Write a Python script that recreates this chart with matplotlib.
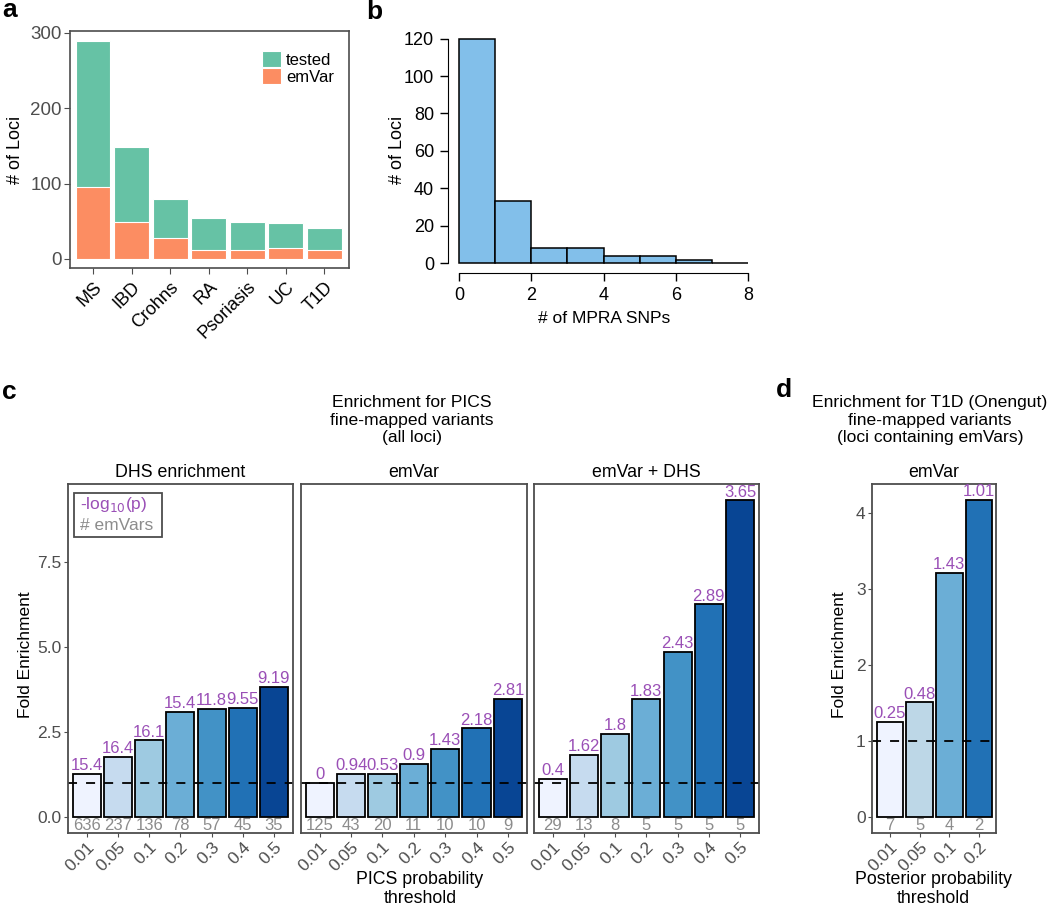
import numpy as np
import matplotlib
matplotlib.use('Agg')
import matplotlib.pyplot as plt
from matplotlib.patches import Rectangle

plt.rcParams['font.family'] = ['Liberation Sans', 'DejaVu Sans']

# panel a
diseases = ['MS', 'IBD', 'Crohns', 'RA', 'Psoriasis', 'UC', 'T1D']
tested = [289, 149, 79, 55, 49, 48, 41]
emvar_loci = [95, 49, 28, 12, 12, 15, 12]

# panel b
snp_edges = [0, 1, 2, 3, 4, 5, 6, 7, 8]
snp_counts = [120, 33, 8, 8, 4, 4, 2, 0]

# panel c
thresholds = ['0.01', '0.05', '0.1', '0.2', '0.3', '0.4', '0.5']
dhs_fold = [1.26, 1.77, 2.25, 3.09, 3.17, 3.21, 3.82]
dhs_logp = ['15.4', '16.4', '16.1', '15.4', '11.8', '9.55', '9.19']
dhs_n = [636, 237, 136, 78, 57, 45, 35]
emvar_fold = [1.0, 1.26, 1.26, 1.55, 2.0, 2.6, 3.47]
emvar_logp = ['0', '0.94', '0.53', '0.9', '1.43', '2.18', '2.81']
emvar_n = [125, 43, 20, 11, 10, 10, 9]
both_fold = [1.12, 1.82, 2.43, 3.45, 4.86, 6.25, 9.31]
both_logp = ['0.4', '1.62', '1.8', '1.83', '2.43', '2.89', '3.65']
both_n = [29, 13, 8, 5, 5, 5, 5]

# panel d
t1d_thr = ['0.01', '0.05', '0.1', '0.2']
t1d_fold = [1.25, 1.51, 3.21, 4.17]
t1d_logp = ['0.25', '0.48', '1.43', '1.01']
t1d_n = [7, 5, 4, 2]

blues7 = ['#EFF3FF', '#C6DBEF', '#9ECAE1', '#6BAED6', '#4292C6', '#2171B5', '#084594']
blues4 = ['#EFF3FF', '#BDD7E7', '#6BAED6', '#2171B5']
purple = '#9A4FB6'
grey_num = '#8C8C8C'
frame = '#4D4D4D'

W, H = 1050, 907
fig = plt.figure(figsize=(W / 100, H / 100), dpi=100)


def box(l, t, r, b):
    return [l / W, 1 - b / H, (r - l) / W, (b - t) / H]


def fx(x):
    return x / W


def fy(y):
    return 1 - y / H


# ---- a ----
ax = fig.add_axes(box(70, 31, 349, 268))
x = np.arange(len(diseases))
ax.bar(x, tested, width=0.9, color='#66C2A5', edgecolor='white', linewidth=0.8, label='tested')
ax.bar(x, emvar_loci, width=0.9, color='#FC8D62', edgecolor='white', linewidth=0.8, label='emVar')
ax.set_xlim(-0.6, 6.64)
ax.set_ylim(-12, 302.6)
ax.set_yticks([0, 100, 200, 300])
ax.set_xticks(x)
ax.set_xticklabels(diseases, rotation=45, ha='right', rotation_mode='anchor', fontsize=13, color='black')
ax.tick_params(axis='y', labelsize=13.5, colors=frame, length=4, pad=2)
ax.tick_params(axis='x', length=4, color=frame)
for s in ax.spines.values():
    s.set_color(frame)
    s.set_linewidth(1.2)
ax.legend(loc='upper left', bbox_to_anchor=(0.688, 0.915), frameon=False, fontsize=12,
          handlelength=1.15, handleheight=1.05, handletextpad=0.3, labelspacing=0.05,
          borderpad=0, borderaxespad=0)
fig.text(fx(15), fy(150), '# of Loci', rotation=90, ha='center', va='center', fontsize=13)

# ---- b ----
ax = fig.add_axes(box(448, 30, 760, 273))
ax.bar(snp_edges[:-1], snp_counts, width=1, align='edge', color='#82BFEA', edgecolor='black', linewidth=1.1)
ax.set_xlim(-0.305, 8.33)
ax.set_ylim(-5.2, 124.6)
ax.spines['top'].set_visible(False)
ax.spines['right'].set_visible(False)
ax.spines['left'].set_bounds(0, 120)
ax.spines['bottom'].set_bounds(0, 8)
ax.set_yticks([0, 20, 40, 60, 80, 100, 120])
ax.set_xticks([0, 2, 4, 6, 8])
ax.tick_params(labelsize=13, length=6, width=1, pad=4)
ax.set_xlabel('# of MPRA SNPs', fontsize=12.5, labelpad=5)
fig.text(fx(398), fy(150), '# of Loci', rotation=90, ha='center', va='center', fontsize=13)


# ---- c / d ----
def enrich(ax, labels, fold, logp, n, colors, ylim, xlim):
    xs = np.arange(len(labels))
    ax.bar(xs, fold, width=0.9, color=colors, edgecolor='black', linewidth=1.3)
    ax.axhline(1, color='black', linestyle=(0, (5, 5)), linewidth=1.3)
    for xi, f, lp, ni in zip(xs, fold, logp, n):
        ax.annotate(lp, (xi, f), xytext=(0, 0.5), textcoords='offset points',
                    ha='center', va='bottom', color=purple, fontsize=12)
        ax.annotate(str(ni), (xi, 0), xytext=(0, -6.2), textcoords='offset points',
                    ha='center', va='center', color=grey_num, fontsize=12)
    ax.set_xlim(*xlim)
    ax.set_ylim(*ylim)
    ax.set_xticks(xs)
    ax.set_xticklabels(labels, rotation=45, ha='right', rotation_mode='anchor', fontsize=12, color=frame)
    ax.tick_params(length=3, color=frame, labelsize=12.5, labelcolor=frame, pad=1.5)
    for s in ax.spines.values():
        s.set_color(frame)
        s.set_linewidth(1.3)


c_ylim = (-0.48, 9.79)
c_xlim = (-0.6, 6.61)
facets = [
    ((68, 484, 293, 833), 'DHS enrichment', dhs_fold, dhs_logp, dhs_n),
    ((301, 484, 527, 833), 'emVar', emvar_fold, emvar_logp, emvar_n),
    ((534, 484, 759, 833), 'emVar + DHS', both_fold, both_logp, both_n),
]
for i, (bx, title, fold, logp, n) in enumerate(facets):
    ax = fig.add_axes(box(*bx))
    enrich(ax, thresholds, fold, logp, n, blues7, c_ylim, c_xlim)
    if i == 0:
        ax.set_yticks([0, 2.5, 5.0, 7.5])
        ax.set_yticklabels(['0.0', '2.5', '5.0', '7.5'])
    else:
        ax.set_yticks([])
    fig.text(fx((bx[0] + bx[2]) / 2), fy(473), title, ha='center', va='center', fontsize=12.8)

# legend box in the DHS facet
fig.add_artist(Rectangle((fx(74), fy(537)), fx(162) - fx(74), fy(493) - fy(537),
                         transform=fig.transFigure, fill=False, edgecolor=frame, linewidth=1.3))
fig.text(fx(80), fy(504), '-log$_{10}$(p)', color=purple, fontsize=12.5, va='center', ha='left')
fig.text(fx(80), fy(525), '# emVars', color=grey_num, fontsize=12.5, va='center', ha='left')

fig.text(fx(412), fy(420), 'Enrichment for PICS\nfine-mapped variants\n(all loci)',
         ha='center', va='center', fontsize=12.6, linespacing=1.2)
fig.text(fx(26), fy(655), 'Fold Enrichment', rotation=90, ha='center', va='center', fontsize=12.5)
fig.text(fx(420), fy(889), 'PICS probability\nthreshold', ha='center', va='center', fontsize=12.8,
         linespacing=1.15)

ax = fig.add_axes(box(872, 484, 996, 833))
enrich(ax, t1d_thr, t1d_fold, t1d_logp, t1d_n, blues4, (-0.207, 4.38), (-0.61, 3.58))
ax.set_yticks([0, 1, 2, 3, 4])
fig.text(fx(934), fy(473), 'emVar', ha='center', va='center', fontsize=12.8)
fig.text(fx(930), fy(420), 'Enrichment for T1D (Onengut)\nfine-mapped variants\n(loci containing emVars)',
         ha='center', va='center', fontsize=12.6, linespacing=1.2)
fig.text(fx(840), fy(655), 'Fold Enrichment', rotation=90, ha='center', va='center', fontsize=12.5)
fig.text(fx(933), fy(889), 'Posterior probability\nthreshold', ha='center', va='center', fontsize=12.8,
         linespacing=1.15)

# panel letters
for lab, px, py in [('a', 2, 10), ('b', 366, 12), ('c', 2, 392), ('d', 776, 390)]:
    fig.text(fx(px), fy(py), lab, fontsize=19, fontweight='bold', ha='left', va='center')

fig.savefig('out.png', dpi=100)
